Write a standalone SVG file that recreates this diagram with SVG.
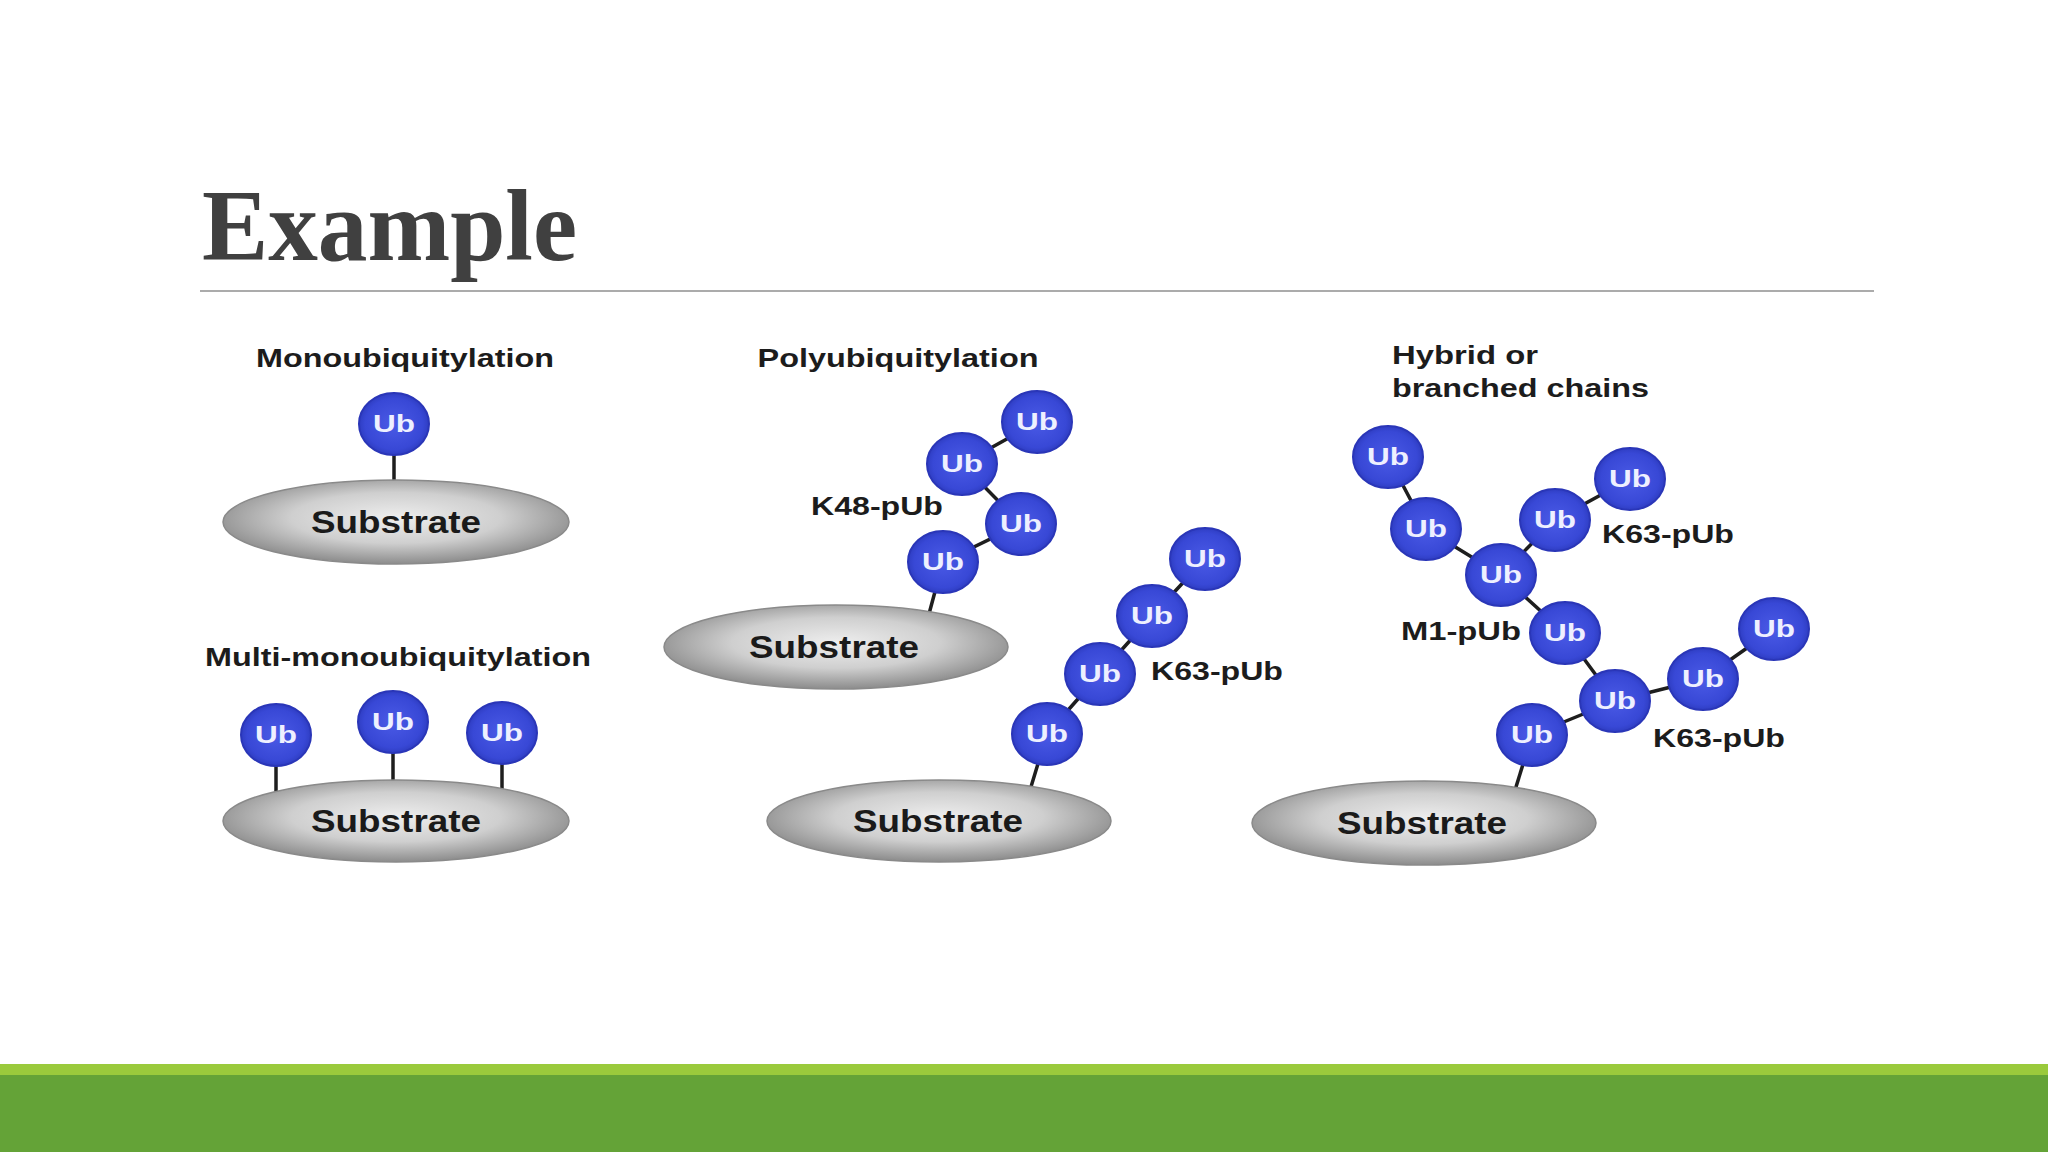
<svg xmlns="http://www.w3.org/2000/svg" width="2048" height="1152" viewBox="0 0 2048 1152">
<style>
.title{font-family:"Liberation Serif","Times New Roman",serif;font-weight:bold;font-size:102px;fill:#404040}
.lbl{font-family:"Liberation Sans",Arial,sans-serif;font-weight:bold;font-size:25px;fill:#1c1c1c}
.sub{font-family:"Liberation Sans",Arial,sans-serif;font-weight:bold;font-size:32px;fill:#1a1a1a}
.ubt{font-family:"Liberation Sans",Arial,sans-serif;font-weight:bold;font-size:23px;fill:#eef0ff}
.ub{fill:url(#gUb);stroke:#2a36b8;stroke-width:2}
.subs{fill:url(#gSub);stroke:#8a8a8a;stroke-width:1.5}
.link{stroke:#1e1e1e;stroke-width:3.5;stroke-linecap:round;fill:none}
</style>
<defs>
<radialGradient id="gUb" cx="0.5" cy="0.5" r="0.55">
<stop offset="0" stop-color="#4a5ae6"/>
<stop offset="0.75" stop-color="#3848d6"/>
<stop offset="1" stop-color="#2a38b8"/>
</radialGradient>
<radialGradient id="gSub" cx="0.5" cy="0.45" r="0.55">
<stop offset="0" stop-color="#eeeeee"/>
<stop offset="0.55" stop-color="#cfcfcf"/>
<stop offset="1" stop-color="#8c8c8c"/>
</radialGradient>
</defs>
<rect width="2048" height="1152" fill="#ffffff"/>
<text class="title" x="202" y="260" textLength="375" lengthAdjust="spacingAndGlyphs">Example</text>
<line x1="200" y1="291" x2="1874" y2="291" stroke="#ababab" stroke-width="2"/>

<g id="connectors">
<line class="link" x1="394" y1="424" x2="394" y2="500"/>
<line class="link" x1="276" y1="735" x2="276" y2="805"/>
<line class="link" x1="393" y1="722" x2="393" y2="800"/>
<line class="link" x1="502" y1="733" x2="502" y2="805"/>
<line class="link" x1="1037" y1="422" x2="962" y2="464"/>
<line class="link" x1="962" y1="464" x2="1021" y2="524"/>
<line class="link" x1="1021" y1="524" x2="943" y2="562"/>
<line class="link" x1="943" y1="562" x2="926" y2="625"/>
<line class="link" x1="1205" y1="559" x2="1152" y2="616"/>
<line class="link" x1="1152" y1="616" x2="1100" y2="674"/>
<line class="link" x1="1100" y1="674" x2="1047" y2="734"/>
<line class="link" x1="1047" y1="734" x2="1027" y2="800"/>
<line class="link" x1="1388" y1="457" x2="1426" y2="529"/>
<line class="link" x1="1426" y1="529" x2="1501" y2="575"/>
<line class="link" x1="1501" y1="575" x2="1555" y2="520"/>
<line class="link" x1="1555" y1="520" x2="1630" y2="479"/>
<line class="link" x1="1501" y1="575" x2="1565" y2="633"/>
<line class="link" x1="1565" y1="633" x2="1615" y2="701"/>
<line class="link" x1="1615" y1="701" x2="1703" y2="679"/>
<line class="link" x1="1703" y1="679" x2="1774" y2="629"/>
<line class="link" x1="1615" y1="701" x2="1532" y2="735"/>
<line class="link" x1="1532" y1="735" x2="1512" y2="800"/>
</g>

<g id="label-mono"><text class="lbl" x="405" y="367" text-anchor="middle" textLength="298" lengthAdjust="spacingAndGlyphs">Monoubiquitylation</text></g>
<g id="label-multi"><text class="lbl" x="398" y="666" text-anchor="middle" textLength="386" lengthAdjust="spacingAndGlyphs">Multi-monoubiquitylation</text></g>
<g id="label-poly"><text class="lbl" x="898" y="367" text-anchor="middle" textLength="281" lengthAdjust="spacingAndGlyphs">Polyubiquitylation</text></g>
<g id="label-hybrid"><text class="lbl" x="1392" y="364" textLength="146" lengthAdjust="spacingAndGlyphs">Hybrid or</text><text class="lbl" x="1392" y="397" textLength="257" lengthAdjust="spacingAndGlyphs">branched chains</text></g>
<g id="label-k48"><text class="lbl" x="877" y="515" text-anchor="middle" textLength="132" lengthAdjust="spacingAndGlyphs">K48-pUb</text></g>
<g id="label-k63a"><text class="lbl" x="1217" y="680" text-anchor="middle" textLength="132" lengthAdjust="spacingAndGlyphs">K63-pUb</text></g>
<g id="label-k63b"><text class="lbl" x="1668" y="543" text-anchor="middle" textLength="132" lengthAdjust="spacingAndGlyphs">K63-pUb</text></g>
<g id="label-m1"><text class="lbl" x="1461" y="640" text-anchor="middle" textLength="120" lengthAdjust="spacingAndGlyphs">M1-pUb</text></g>
<g id="label-k63c"><text class="lbl" x="1719" y="747" text-anchor="middle" textLength="132" lengthAdjust="spacingAndGlyphs">K63-pUb</text></g>

<g id="substrate-1"><ellipse class="subs" cx="396" cy="522" rx="173" ry="42"/><text class="sub" x="396" y="533" text-anchor="middle" textLength="170" lengthAdjust="spacingAndGlyphs">Substrate</text></g>
<g id="substrate-2"><ellipse class="subs" cx="396" cy="821" rx="173" ry="41"/><text class="sub" x="396" y="832" text-anchor="middle" textLength="170" lengthAdjust="spacingAndGlyphs">Substrate</text></g>
<g id="substrate-3"><ellipse class="subs" cx="836" cy="647" rx="172" ry="42"/><text class="sub" x="834" y="658" text-anchor="middle" textLength="170" lengthAdjust="spacingAndGlyphs">Substrate</text></g>
<g id="substrate-4"><ellipse class="subs" cx="939" cy="821" rx="172" ry="41"/><text class="sub" x="938" y="832" text-anchor="middle" textLength="170" lengthAdjust="spacingAndGlyphs">Substrate</text></g>
<g id="substrate-5"><ellipse class="subs" cx="1424" cy="823" rx="172" ry="42"/><text class="sub" x="1422" y="834" text-anchor="middle" textLength="170" lengthAdjust="spacingAndGlyphs">Substrate</text></g>

<g id="ub-mono"><ellipse class="ub" cx="394" cy="424" rx="35" ry="31"/><text class="ubt" x="394" y="432" text-anchor="middle" textLength="42" lengthAdjust="spacingAndGlyphs">Ub</text></g>
<g id="ub-multi-1"><ellipse class="ub" cx="276" cy="735" rx="35" ry="31"/><text class="ubt" x="276" y="743" text-anchor="middle" textLength="42" lengthAdjust="spacingAndGlyphs">Ub</text></g>
<g id="ub-multi-2"><ellipse class="ub" cx="393" cy="722" rx="35" ry="31"/><text class="ubt" x="393" y="730" text-anchor="middle" textLength="42" lengthAdjust="spacingAndGlyphs">Ub</text></g>
<g id="ub-multi-3"><ellipse class="ub" cx="502" cy="733" rx="35" ry="31"/><text class="ubt" x="502" y="741" text-anchor="middle" textLength="42" lengthAdjust="spacingAndGlyphs">Ub</text></g>

<g id="ub-k48-1"><ellipse class="ub" cx="943" cy="562" rx="35" ry="31"/><text class="ubt" x="943" y="570" text-anchor="middle" textLength="42" lengthAdjust="spacingAndGlyphs">Ub</text></g>
<g id="ub-k48-2"><ellipse class="ub" cx="1021" cy="524" rx="35" ry="31"/><text class="ubt" x="1021" y="532" text-anchor="middle" textLength="42" lengthAdjust="spacingAndGlyphs">Ub</text></g>
<g id="ub-k48-3"><ellipse class="ub" cx="962" cy="464" rx="35" ry="31"/><text class="ubt" x="962" y="472" text-anchor="middle" textLength="42" lengthAdjust="spacingAndGlyphs">Ub</text></g>
<g id="ub-k48-4"><ellipse class="ub" cx="1037" cy="422" rx="35" ry="31"/><text class="ubt" x="1037" y="430" text-anchor="middle" textLength="42" lengthAdjust="spacingAndGlyphs">Ub</text></g>

<g id="ub-k63-1"><ellipse class="ub" cx="1047" cy="734" rx="35" ry="31"/><text class="ubt" x="1047" y="742" text-anchor="middle" textLength="42" lengthAdjust="spacingAndGlyphs">Ub</text></g>
<g id="ub-k63-2"><ellipse class="ub" cx="1100" cy="674" rx="35" ry="31"/><text class="ubt" x="1100" y="682" text-anchor="middle" textLength="42" lengthAdjust="spacingAndGlyphs">Ub</text></g>
<g id="ub-k63-3"><ellipse class="ub" cx="1152" cy="616" rx="35" ry="31"/><text class="ubt" x="1152" y="624" text-anchor="middle" textLength="42" lengthAdjust="spacingAndGlyphs">Ub</text></g>
<g id="ub-k63-4"><ellipse class="ub" cx="1205" cy="559" rx="35" ry="31"/><text class="ubt" x="1205" y="567" text-anchor="middle" textLength="42" lengthAdjust="spacingAndGlyphs">Ub</text></g>

<g id="ub-h-1"><ellipse class="ub" cx="1388" cy="457" rx="35" ry="31"/><text class="ubt" x="1388" y="465" text-anchor="middle" textLength="42" lengthAdjust="spacingAndGlyphs">Ub</text></g>
<g id="ub-h-2"><ellipse class="ub" cx="1426" cy="529" rx="35" ry="31"/><text class="ubt" x="1426" y="537" text-anchor="middle" textLength="42" lengthAdjust="spacingAndGlyphs">Ub</text></g>
<g id="ub-h-3"><ellipse class="ub" cx="1501" cy="575" rx="35" ry="31"/><text class="ubt" x="1501" y="583" text-anchor="middle" textLength="42" lengthAdjust="spacingAndGlyphs">Ub</text></g>
<g id="ub-h-4"><ellipse class="ub" cx="1555" cy="520" rx="35" ry="31"/><text class="ubt" x="1555" y="528" text-anchor="middle" textLength="42" lengthAdjust="spacingAndGlyphs">Ub</text></g>
<g id="ub-h-5"><ellipse class="ub" cx="1630" cy="479" rx="35" ry="31"/><text class="ubt" x="1630" y="487" text-anchor="middle" textLength="42" lengthAdjust="spacingAndGlyphs">Ub</text></g>
<g id="ub-h-6"><ellipse class="ub" cx="1565" cy="633" rx="35" ry="31"/><text class="ubt" x="1565" y="641" text-anchor="middle" textLength="42" lengthAdjust="spacingAndGlyphs">Ub</text></g>
<g id="ub-h-7"><ellipse class="ub" cx="1615" cy="701" rx="35" ry="31"/><text class="ubt" x="1615" y="709" text-anchor="middle" textLength="42" lengthAdjust="spacingAndGlyphs">Ub</text></g>
<g id="ub-h-8"><ellipse class="ub" cx="1703" cy="679" rx="35" ry="31"/><text class="ubt" x="1703" y="687" text-anchor="middle" textLength="42" lengthAdjust="spacingAndGlyphs">Ub</text></g>
<g id="ub-h-9"><ellipse class="ub" cx="1774" cy="629" rx="35" ry="31"/><text class="ubt" x="1774" y="637" text-anchor="middle" textLength="42" lengthAdjust="spacingAndGlyphs">Ub</text></g>
<g id="ub-h-10"><ellipse class="ub" cx="1532" cy="735" rx="35" ry="31"/><text class="ubt" x="1532" y="743" text-anchor="middle" textLength="42" lengthAdjust="spacingAndGlyphs">Ub</text></g>

<rect x="0" y="1064" width="2048" height="11" fill="#9aca3c"/>
<rect x="0" y="1075" width="2048" height="77" fill="#64a337"/>
</svg>
